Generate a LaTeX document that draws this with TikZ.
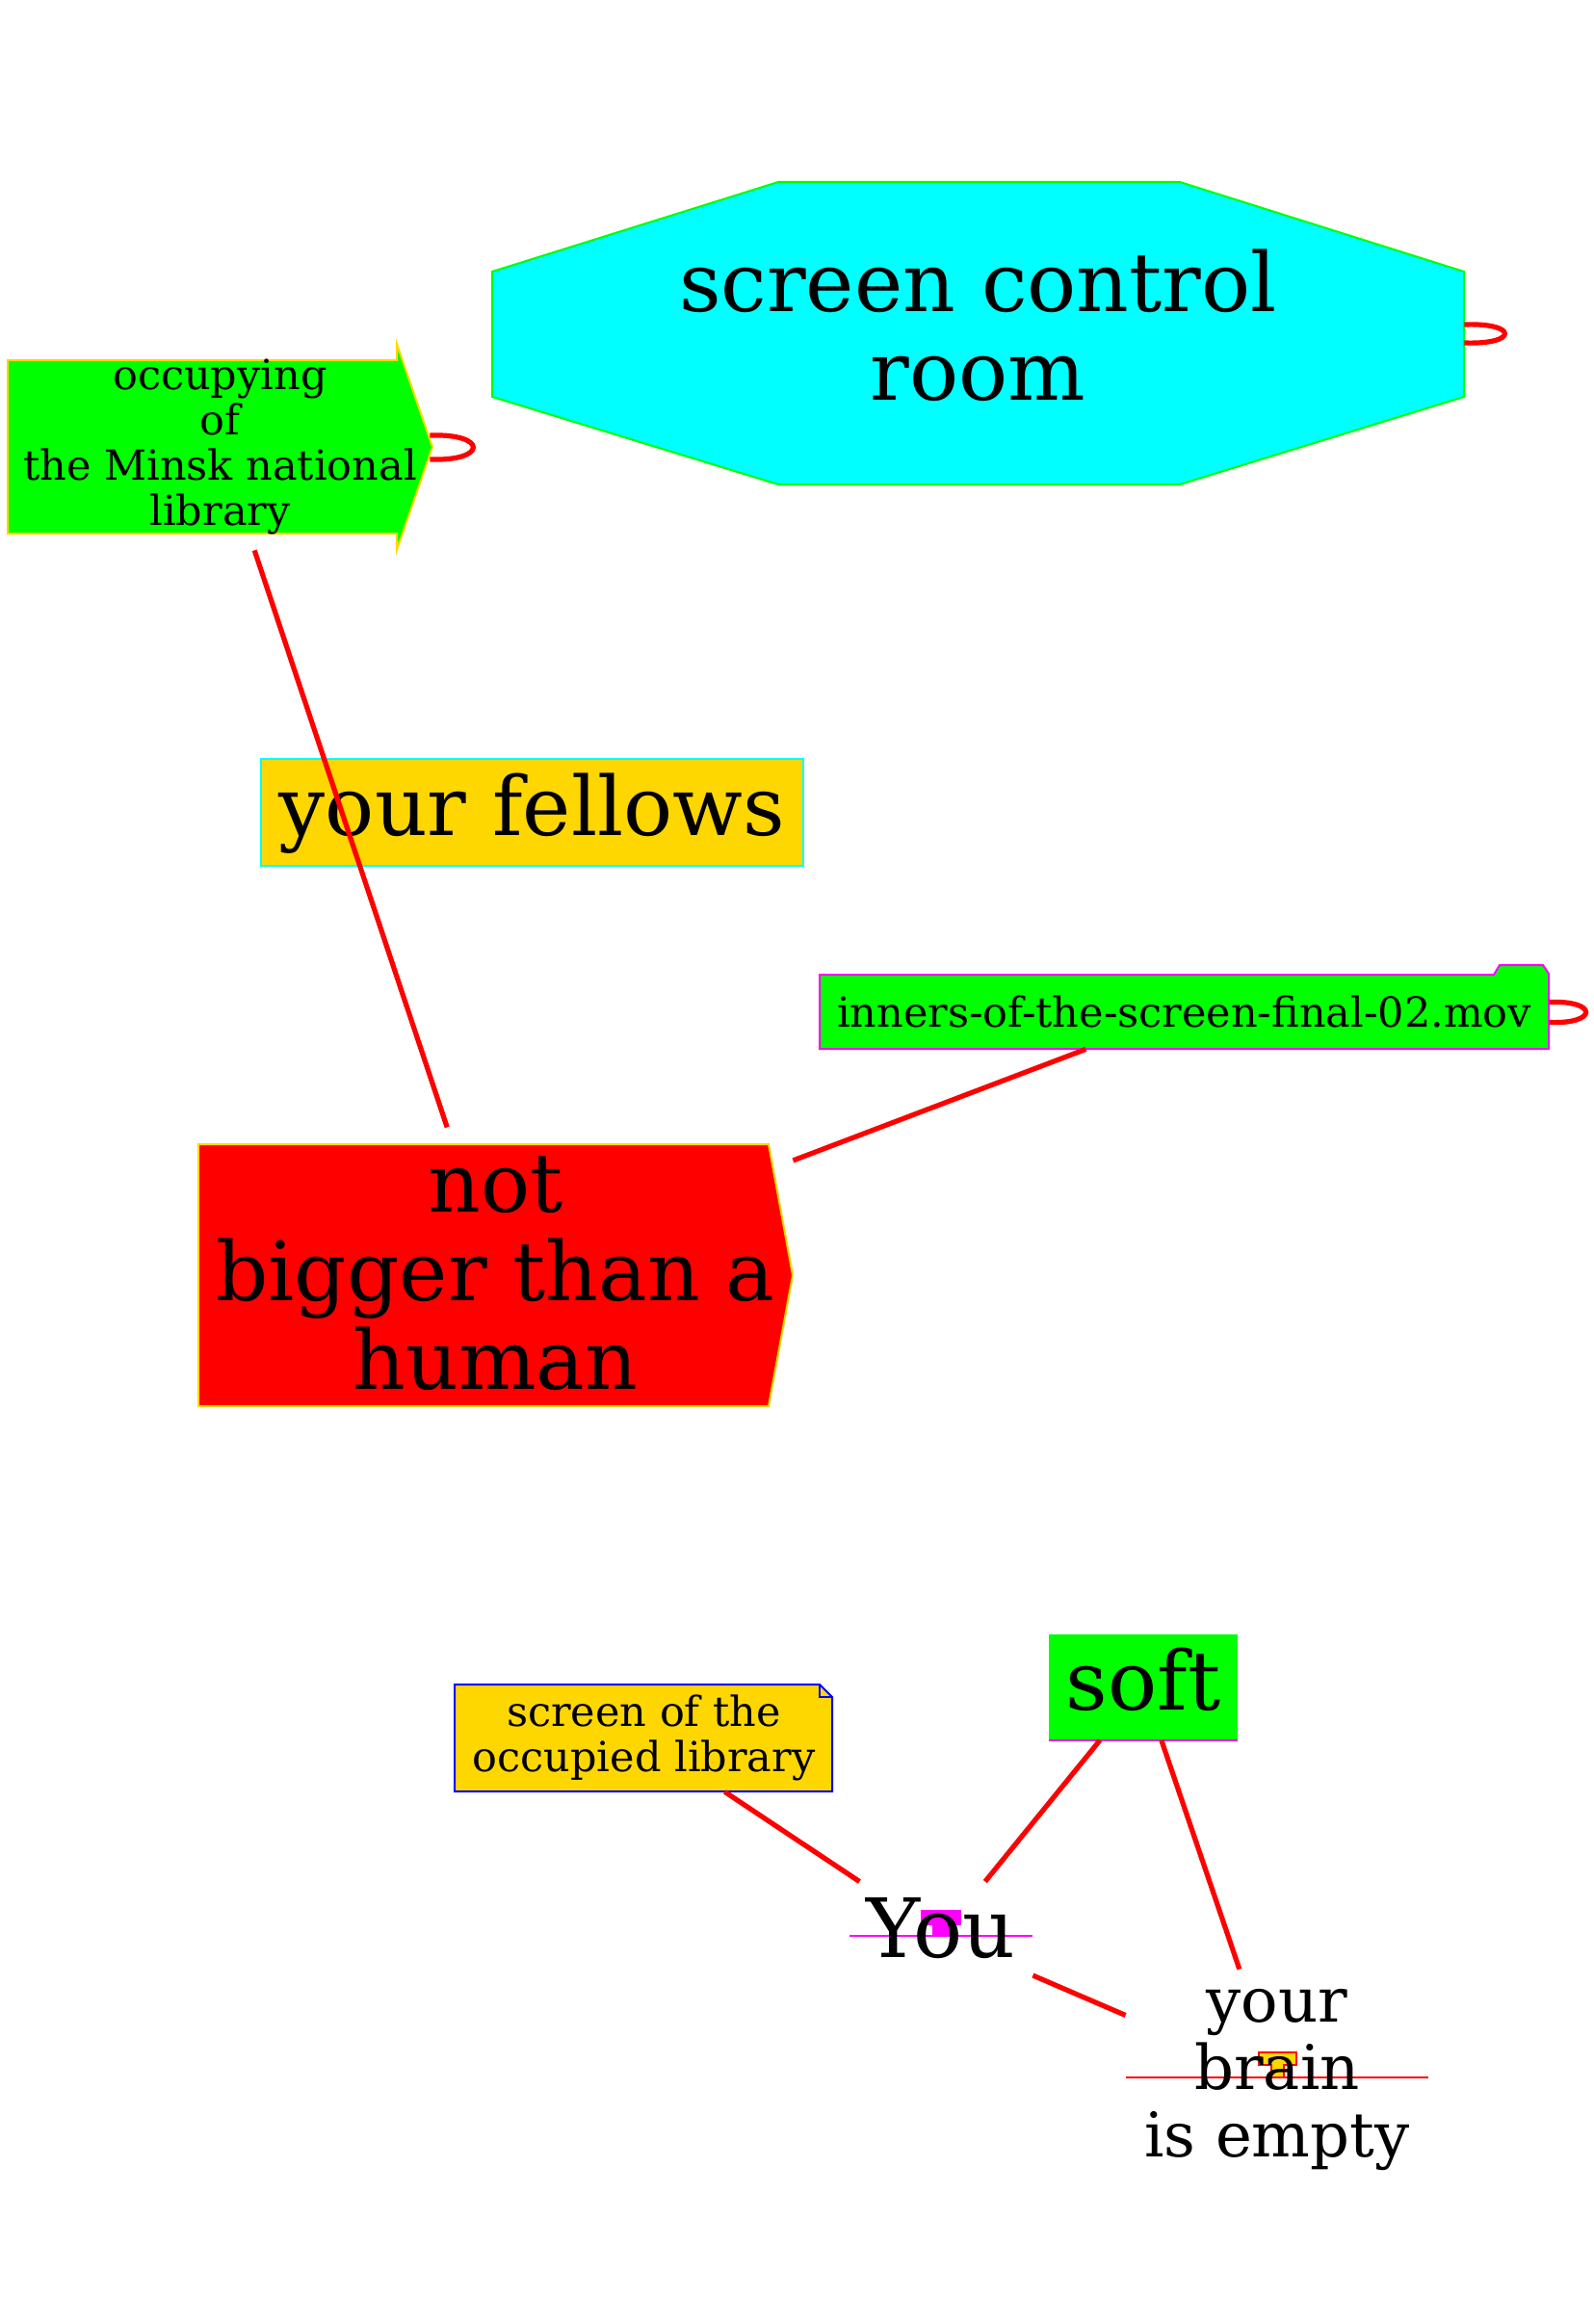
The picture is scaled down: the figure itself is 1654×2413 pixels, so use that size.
\documentclass[tikz,border=0pt]{standalone}
\usepackage{fontspec}
\setmainfont{DejaVu Serif}
\usetikzlibrary{calc}
\definecolor{gold}{HTML}{FFD700}
\definecolor{aqua}{HTML}{00FFFF}
\definecolor{fuchsia}{HTML}{FF00FF}

\begin{document}
\begin{tikzpicture}[x=0.5pt,y=-0.5pt,
	small/.style={font=\fontsize{21.5}{23.5}\selectfont, align=center, inner sep=0pt},
	big/.style={font=\fontsize{42.5}{46}\selectfont, align=center, inner sep=0pt},
	mid/.style={font=\fontsize{32}{35}\selectfont, align=center, inner sep=0pt},
	link/.style={red, line width=2.6pt}]
	\useasboundingbox (0,0) rectangle (1654,2413);
	% Outlines
	\filldraw [draw=gold, fill=green, line width=1pt] (8,374) -- (412,374) -- (412,357) -- (449,464) -- (412,571) -- (412,554) -- (8,554) -- cycle;
	\filldraw [draw=green, fill=aqua, line width=1pt] (808,189) -- (1225,189) -- (1520,282) -- (1520,412) -- (1225,503) -- (808,503) -- (511,412) -- (511,282) -- cycle;
	\filldraw [draw=fuchsia, fill=green, line width=1pt] (851,1012) -- (1551,1012) -- (1557,1002) -- (1602,1002) -- (1608,1011) -- (1608,1089) -- (851,1089) -- cycle;
	\filldraw [draw=gold, fill=red, line width=1pt] (206,1188) -- (798,1188) -- (823,1324) -- (798,1460) -- (206,1460) -- cycle;
	\filldraw [draw=blue, fill=gold, line width=1pt] (472,1749) -- (851,1749) -- (864,1762) -- (864,1860) -- (472,1860) -- cycle;
	\draw [blue, line width=1pt] (851,1749) -- (851,1762) -- (864,1762);
	\draw [fuchsia, line width=1pt] (882,2010) -- (1072,2010);
	\filldraw [fuchsia] (956,1983) -- (997,1983) -- (997,1998) -- (985,1998) -- (985,2010) -- (968,2010) -- (968,1998) -- (956,1998) -- cycle;
	\draw [red, line width=1pt] (1169,2157) -- (1483,2157);
	\filldraw [draw=red, fill=gold, line width=1pt] (1307,2131) -- (1346,2131) -- (1346,2144) -- (1333,2144) -- (1333,2157) -- (1320,2157) -- (1320,2144) -- (1307,2144) -- cycle;
	% Labels
	\node [small, minimum width=220.5pt, minimum height=107pt] (occ) at (228.5,464) {occupying\\of\\the Minsk national\\library};
	\node [big, minimum width=504.5pt, minimum height=157pt] (crm) at (1015.5,338) {screen control\\room};
	\node [big, draw=aqua, fill=gold, line width=1pt, text depth=8.5pt, minimum width=281.5pt, minimum height=55.5pt] (fel) at (552.5,843.5) {your fellows};
	\node [small, minimum width=378.5pt, minimum height=38.5pt] (mov) at (1229.5,1050.5) {inners-of-the-screen-final-02.mov};
	\node [big, minimum width=308.5pt, minimum height=136pt] (nbh) at (514.5,1322) {not\\bigger than a\\human};
	\node [small, minimum width=196.5pt, minimum height=55.5pt] (scr) at (668.5,1804.5) {screen of the\\occupied library};
	\node [big, fill=green, text depth=8.5pt, minimum width=98pt, minimum height=55pt] (soft) at (1187,1751.5) {soft};
	\draw [fuchsia, line width=1pt] (soft.south west) -- (soft.south east);
	\node [big, text depth=8.5pt, minimum width=95pt, minimum height=56pt] (you) at (977,2010) {You};
	\node [mid, minimum width=157pt, minimum height=115pt] (brain) at (1326,2160) {your\\brain\\is empty};
	% Links
	\draw [link, shorten >=8pt] (occ) -- (nbh);
	\draw [link] (mov) -- (nbh);
	\draw [link] (scr) -- (you);
	\draw [link] (soft) -- (you);
	\draw [link] (soft) -- (brain);
	\draw [link] (you) -- (brain);
	\draw [link] ($(occ.east)+(-3,-12)$) .. controls +(60,-2) and +(60,2) .. ($(occ.east)+(-3,13)$);
	\draw [link] ($(crm.east)+(0,-1)$) .. controls +(56,-2) and +(56,2) .. ($(crm.east)+(0,18)$);
	\draw [link] ($(mov.east)+(0,-10)$) .. controls +(51,-2) and +(51,2) .. ($(mov.east)+(0,11)$);
\end{tikzpicture}
\end{document}
